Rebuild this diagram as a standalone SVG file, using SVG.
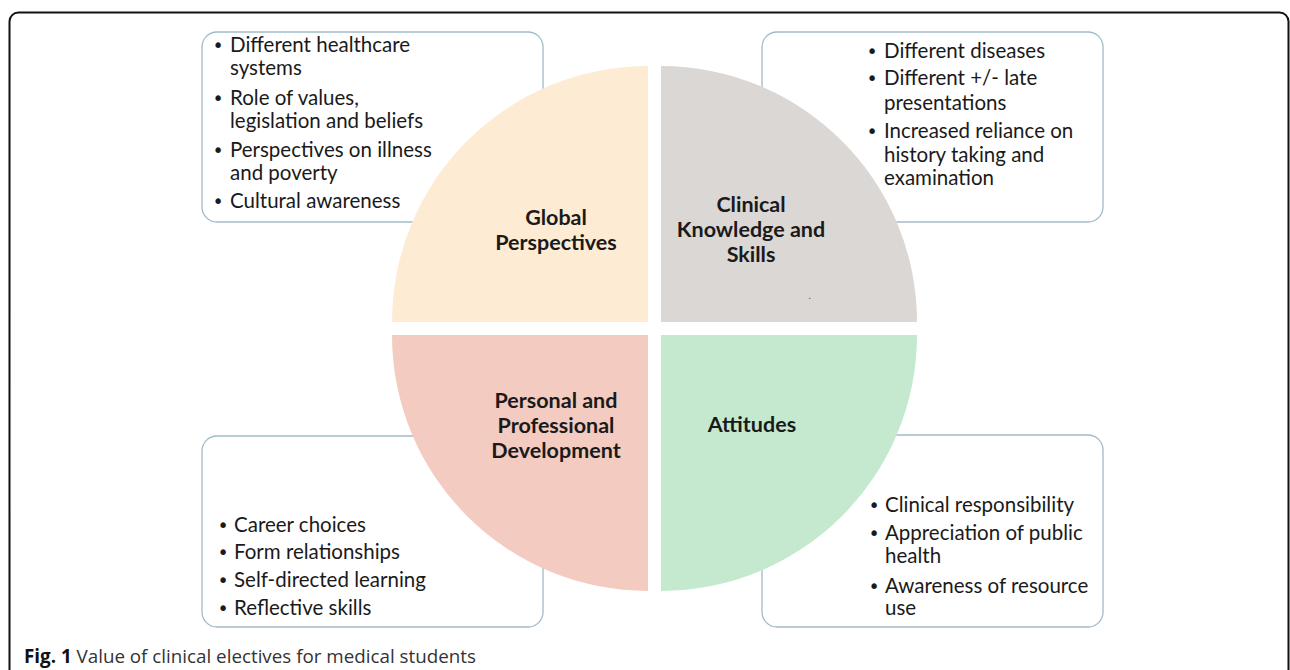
<svg xmlns="http://www.w3.org/2000/svg" width="1290" height="670" viewBox="0 0 1290 670">
<style>
.box{fill:#ffffff;stroke:#a3bac6;stroke-width:1.3}
.b{font-family:Lato,"Liberation Sans",sans-serif;font-size:20.5px;fill:#1a1a1a}
.bul{font-family:"DejaVu Sans",sans-serif;font-size:19px;fill:#1a1a1a;text-anchor:middle}
.lab{font-family:Lato,"Liberation Sans",sans-serif;font-size:21.5px;font-weight:bold;fill:#1a1a1a;text-anchor:middle}
.cap{font-family:"Open Sans","Liberation Sans",sans-serif;font-size:18.8px;fill:#333333}
</style>
<rect width="1290" height="670" fill="#ffffff"/>
<rect x="9.5" y="12.5" width="1279" height="720" rx="9" fill="none" stroke="#111111" stroke-width="2"/>

<g id="box-global">
<rect class="box" x="202" y="32" width="341" height="190" rx="15"/>
<text class="bul" x="218" y="52">•</text><text class="b" x="230" y="52">Different healthcare</text>
<text class="b" x="230" y="75">systems</text>
<text class="bul" x="218" y="105">•</text><text class="b" x="230" y="105">Role of values,</text>
<text class="b" x="230" y="128">legislation and beliefs</text>
<text class="bul" x="218" y="157">•</text><text class="b" x="230" y="157">Perspectives on illness</text>
<text class="b" x="230" y="180">and poverty</text>
<text class="bul" x="218" y="208">•</text><text class="b" x="230" y="208">Cultural awareness</text>
</g>

<g id="box-clinical">
<rect class="box" x="762" y="32" width="341" height="190" rx="15"/>
<text class="bul" x="872" y="58">•</text><text class="b" x="884" y="58">Different diseases</text>
<text class="bul" x="872" y="85">•</text><text class="b" x="884" y="85">Different +/- late</text>
<text class="b" x="884" y="110">presentations</text>
<text class="bul" x="872" y="138">•</text><text class="b" x="884" y="138">Increased reliance on</text>
<text class="b" x="884" y="162">history taking and</text>
<text class="b" x="884" y="185">examination</text>
</g>

<g id="box-personal">
<rect class="box" x="202" y="436" width="341" height="191" rx="15"/>
<text class="bul" x="223" y="532">•</text><text class="b" x="234" y="532">Career choices</text>
<text class="bul" x="223" y="559">•</text><text class="b" x="234" y="559">Form relationships</text>
<text class="bul" x="223" y="587">•</text><text class="b" x="234" y="587">Self-directed learning</text>
<text class="bul" x="223" y="615">•</text><text class="b" x="234" y="615">Reflective skills</text>
</g>

<g id="box-attitudes">
<rect class="box" x="762" y="435" width="341" height="192" rx="15"/>
<text class="bul" x="874" y="512">•</text><text class="b" x="885" y="512">Clinical responsibility</text>
<text class="bul" x="874" y="540">•</text><text class="b" x="885" y="540">Appreciation of public</text>
<text class="b" x="885" y="563">health</text>
<text class="bul" x="874" y="593">•</text><text class="b" x="885" y="593">Awareness of resource</text>
<text class="b" x="885" y="615">use</text>
</g>

<g id="quadrant-global">
<path d="M648,322 L648,66 A256,256 0 0 0 392,322 Z" fill="#fdebd4"/>
<text class="lab" x="556" y="225">Global</text>
<text class="lab" x="556" y="250">Perspectives</text>
</g>

<g id="quadrant-clinical">
<path d="M661,322 L661,66 A256,256 0 0 1 917,322 Z" fill="#dbd7d4"/>
<text class="lab" x="751" y="212">Clinical</text>
<text class="lab" x="751" y="237">Knowledge and</text>
<text class="lab" x="751" y="262">Skills</text>
<text x="808.5" y="298.5" font-family="Lato,sans-serif" font-size="10" fill="#555555">.</text>
</g>

<g id="quadrant-personal">
<path d="M648,335 L392,335 A256,256 0 0 0 648,591 Z" fill="#f3cbc0"/>
<text class="lab" x="556" y="408">Personal and</text>
<text class="lab" x="556" y="433">Professional</text>
<text class="lab" x="556" y="458">Development</text>
</g>

<g id="quadrant-attitudes">
<path d="M661,335 L917,335 A256,256 0 0 1 661,591 Z" fill="#c4e9cf"/>
<text class="lab" x="752" y="432">Attitudes</text>
</g>

<g id="connectors"></g>

<text class="cap" x="24" y="663"><tspan font-weight="bold" fill="#111111">Fig. 1</tspan> Value of clinical electives for medical students</text>
</svg>
